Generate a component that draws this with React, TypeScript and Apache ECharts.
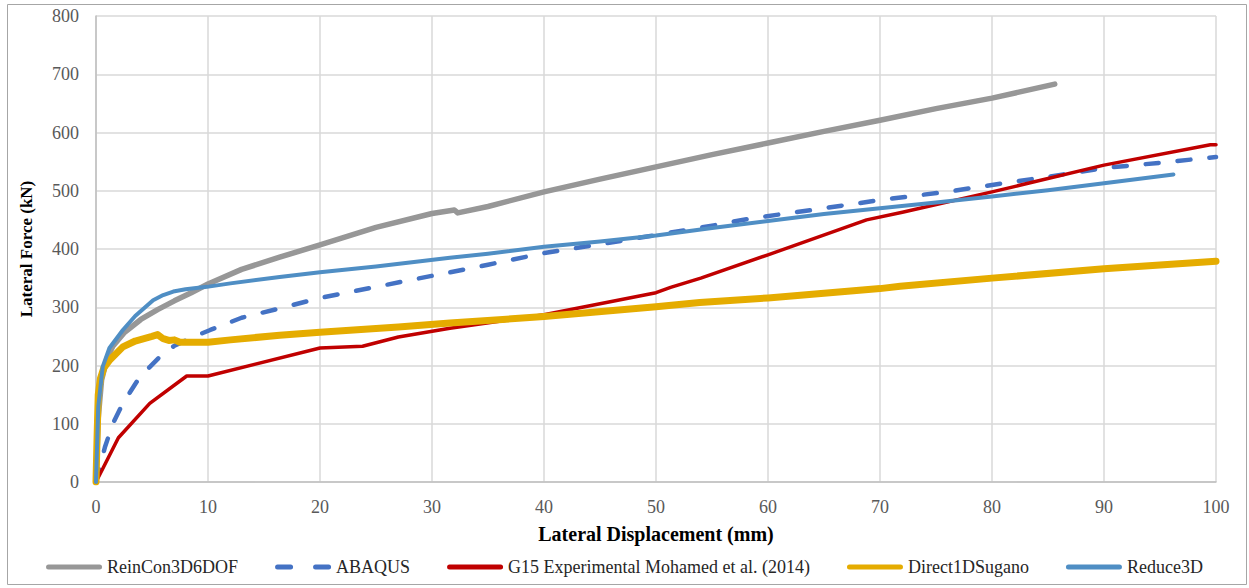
import React, { useEffect, useRef } from "react";
import * as echarts from "echarts";

const seriesNames = [
  "ReinCon3D6DOF",
  "ABAQUS",
  "G15 Experimental Mohamed et al. (2014)",
  "Direct1DSugano",
  "Reduce3D",
];

const xTicks = [0, 10, 20, 30, 40, 50, 60, 70, 80, 90, 100];
const yTicks = [0, 100, 200, 300, 400, 500, 600, 700, 800];

const reinCon3D6DOF: [number, number][] = [
  [0, 0], [0.2, 110], [0.5, 175], [1, 213], [1.5, 233], [2.5, 256], [4, 279],
  [5.5, 296], [7, 311], [8.5, 325], [10, 340], [13, 365], [16.4, 386], [20, 407],
  [25, 437], [30, 461], [32, 467], [32.3, 462], [35, 473], [40, 498], [45, 520],
  [50, 541], [55, 562], [60, 582], [65, 602], [70, 621], [75, 641], [80, 659],
  [85.6, 683],
];

const abaqus: [number, number][] = [
  [0, 0], [0.8, 60], [1.5, 100], [2.4, 135], [3.9, 180], [5.7, 215], [7, 234],
  [8.7, 249], [10.2, 261], [13, 282], [16.4, 298], [20, 316], [25, 335],
  [31.6, 360], [35, 373], [40, 393], [45, 408], [50, 424], [55, 440],
  [58.3, 452], [65, 470], [70, 484], [76.3, 499], [80, 510], [85, 524],
  [90, 539], [95, 548], [100, 558],
];

const g15Experimental: [number, number][] = [
  [0, 0], [2, 76], [4.8, 135], [8.1, 182], [10, 182], [20, 230], [23.8, 233],
  [27, 249], [31.6, 264], [40, 287], [50, 325], [51.3, 334], [54, 350],
  [60, 390], [68.8, 450], [72, 463], [80, 498], [90, 544], [99.5, 579],
  [100, 579],
];

const direct1DSugano: [number, number][] = [
  [0, 0], [0.1, 80], [0.2, 150], [0.4, 178], [0.7, 196], [1.25, 210],
  [2.4, 232], [3.5, 242], [5, 250], [5.5, 253], [6, 246], [6.5, 243], [7, 244],
  [7.5, 240], [8.4, 240], [10, 240], [12, 244], [16.4, 252], [20, 257],
  [27, 266], [31.6, 273], [40, 284], [50, 301], [53.9, 308], [60, 316],
  [70, 332], [71.8, 336], [80, 350], [90, 366], [100, 379],
];

const reduce3D: [number, number][] = [
  [0, 0], [0.2, 129], [0.6, 198], [1.2, 230], [2.4, 261], [3.5, 285],
  [5.1, 312], [6, 321], [6.9, 327], [8, 331], [9.9, 335], [12, 341],
  [16.4, 352], [20, 360], [25, 370], [31.6, 385], [35, 392], [40, 404],
  [45, 413], [50, 423], [55, 436], [60, 448], [65, 460], [70, 470], [75, 480],
  [80, 490], [85, 501], [90, 513], [96.2, 528],
];

const FONT = "Liberation Serif";
const colors = ["#979797", "#4472C4", "#C00000", "#E5AC00", "#4F8EC4"];

export default function App() {
  const ref = useRef<HTMLDivElement>(null);
  useEffect(() => {
    if (!ref.current) return;
    const chart = echarts.init(ref.current, undefined, { renderer: "svg" });
    const mk = (name: string, data: [number, number][], color: string, width: number, type: any = "solid") => ({
      name,
      type: "line",
      data,
      showSymbol: false,
      symbol: "none",
      smooth: false,
      lineStyle: { color, width, type, cap: "round", join: "round" },
      itemStyle: { color },
    });
    const solidIcon = "path://M2.5,0H53.5A2.5,2.5,0,0,1,53.5,5H2.5A2.5,2.5,0,0,1,2.5,0Z";
    const dashIcon =
      "path://M2.5,0H15.5A2.5,2.5,0,0,1,15.5,5H2.5A2.5,2.5,0,0,1,2.5,0Z M40.5,0H53.5A2.5,2.5,0,0,1,53.5,5H40.5A2.5,2.5,0,0,1,40.5,0Z";
    chart.setOption({
      animation: false,
      backgroundColor: "#ffffff",
      textStyle: { fontFamily: FONT },
      graphic: [
        {
          type: "rect",
          shape: { x: 7.5, y: 4.5, width: 1239, height: 580 },
          style: { fill: "none", stroke: "#A6A6A6", lineWidth: 1 },
          silent: true,
          z: -10,
        },
      ],
      grid: { left: 96, right: 33, top: 16, bottom: 106, containLabel: false },
      xAxis: {
        type: "value",
        min: xTicks[0],
        max: xTicks[xTicks.length - 1],
        interval: 10,
        name: "Lateral Displacement (mm)",
        nameLocation: "middle",
        nameGap: 42,
        nameTextStyle: { fontFamily: FONT, fontSize: 20, fontWeight: "bold", color: "#000" },
        axisLine: { show: true, lineStyle: { color: "#BFBFBF", width: 1.5 } },
        axisTick: { show: false },
        axisLabel: { fontFamily: FONT, fontSize: 18, color: "#595959", margin: 16 },
        splitLine: { show: true, lineStyle: { color: "#D9D9D9", width: 1.5 } },
      },
      yAxis: {
        type: "value",
        min: yTicks[0],
        max: yTicks[yTicks.length - 1],
        interval: 100,
        name: "Lateral Force (kN)",
        nameLocation: "middle",
        nameGap: 61,
        nameTextStyle: { fontFamily: FONT, fontSize: 17, fontWeight: "bold", color: "#000" },
        axisLine: { show: true, lineStyle: { color: "#BFBFBF", width: 1.5 } },
        axisTick: { show: false },
        axisLabel: { fontFamily: FONT, fontSize: 18, color: "#595959", margin: 17 },
        splitLine: { show: true, lineStyle: { color: "#D9D9D9", width: 1.5 } },
      },
      legend: {
        data: seriesNames.map((n, i) => ({
          name: n,
          icon: i === 1 ? dashIcon : solidIcon,
          itemStyle: { color: colors[i], borderWidth: 0 },
        })),
        left: "center",
        top: 553,
        itemWidth: 56,
        itemHeight: 5,
        itemGap: 37,
        symbolKeepAspect: false,
        textStyle: { fontFamily: FONT, fontSize: 18, color: "#262626" },
      },
      series: [
        mk(seriesNames[0], reinCon3D6DOF, colors[0], 5.5),
        mk(seriesNames[1], abaqus, colors[1], 4.5, [13, 19]),
        mk(seriesNames[2], g15Experimental, colors[2], 3.5),
        mk(seriesNames[3], direct1DSugano, colors[3], 7),
        mk(seriesNames[4], reduce3D, colors[4], 4),
      ],
    });
    return () => chart.dispose();
  }, []);
  return (
    <div
      ref={ref}
      style={{ position: "fixed", left: 0, top: 0, width: 1249, height: 588, background: "#fff" }}
    />
  );
}
